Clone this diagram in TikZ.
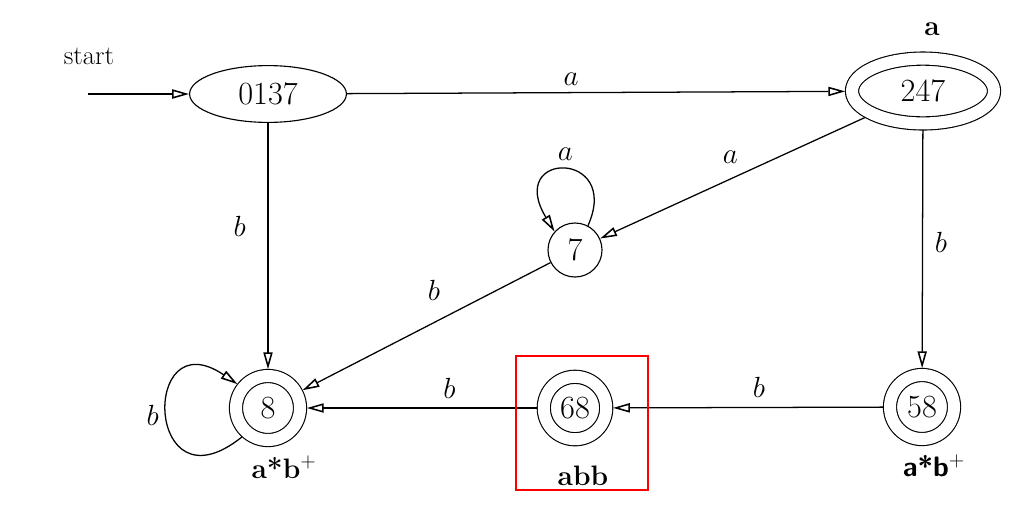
\documentclass[tikz,border=0pt]{standalone}
\usepackage{amsmath, amssymb}
\usepackage{tikz}
\usetikzlibrary{arrows.meta,shapes.geometric}

\tikzset{
  estado/.style={draw, line width=0.8pt, inner sep=0pt, font=\fontsize{23}{27}\selectfont},
  final/.style={estado, double, double distance=0.3cm, outer sep=0.17cm},
  flecha/.style={line width=0.9pt, -{Triangle[open,length=12pt,width=6.5pt,line width=1.1pt]}},
  etiq/.style={font=\fontsize{21}{25}\selectfont},
  negrita/.style={font=\fontsize{20}{24}\selectfont\bfseries}
}

\begin{document}
\begin{tikzpicture}[x=0.025cm, y=-0.025cm]
			\useasboundingbox (0,0) rectangle (1029,527);

			% Estados
			\node at (268,94) [estado, ellipse, minimum width=3.92cm, minimum height=1.42cm] (s0137) {0137};
			\node at (923,91) [final, ellipse, minimum width=3.55cm, minimum height=1.62cm] (s247) {247};
			\node at (575,250) [estado, circle, minimum size=1.35cm] (s7) {7};
			\node at (268,408) [final, circle, minimum size=1.6cm] (s8) {8};
			\node at (575,408) [final, circle, minimum size=1.56cm] (s68) {68};
			\node at (922,407) [final, circle, minimum size=1.6cm] (s58) {58};

			% Inicio
			\node at (89,56) [font=\fontsize{19}{22}\selectfont] (inicio) {start};
			\coordinate (ini) at (88,94);
			\draw[flecha] (ini) -- (s0137);

			% Transiciones
			\draw[flecha] (s0137) -- (s247) node[pos=0.45, above=1pt, etiq] {$a$};
			\draw[flecha] (s0137) -- (s8) node[pos=0.42, left=12pt, etiq] {$b$};
			\draw[flecha] (s247) -- (s58) node[pos=0.47, right=5pt, etiq] {$b$};
			\draw[flecha] (s247) -- (s7) node[pos=0.45, above left=2pt, etiq] {$a$};
			\draw[flecha] (s7) -- (s8) node[pos=0.47, above=12pt, etiq] {$b$};
			\draw[flecha] (s68) -- (s8) node[pos=0.38, above=3pt, etiq] {$b$};
			\draw[flecha] (s58) -- (s68) node[pos=0.46, above=3pt, etiq] {$b$};

			% Lazos
			\draw[flecha] (s7.62) .. controls (622,150) and (505,150) .. (s7.138) node[pos=0.5, above=3pt, etiq] {$a$};
			\draw[flecha] (s8.228) .. controls (145,515) and (140,318) .. (s8.142) node[pos=0.5, left=2pt, etiq] {$b$};

			% Expresiones
			\node at (932,29) [negrita] (ex247) {a};
			\node at (284,467) [negrita] (ex8) {a*b$^{+}$};
			\node at (583,476) [negrita] (ex68) {abb};
			\node at (934,466) [negrita] (ex58) {\sffamily a*b$^{+}$};

			% Recuadro
			\draw[red, line width=1.2pt] (516,356) rectangle (648,490);
		\end{tikzpicture}
\end{document}
